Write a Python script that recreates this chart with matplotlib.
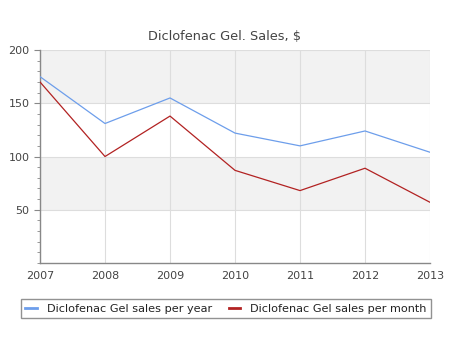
import matplotlib
matplotlib.use('Agg')
import matplotlib.pyplot as plt

years = [2007, 2008, 2009, 2010, 2011, 2012, 2013]
per_year = [175, 131, 155, 122, 110, 124, 104]
per_month = [170, 100, 138, 87, 68, 89, 57]

fig = plt.figure(figsize=(4.5, 3.5), dpi=100)
ax = fig.add_axes([0.0889, 0.2486, 0.8667, 0.6084])

# alternating bands
for lo, hi in [(50, 100), (150, 200)]:
    ax.axhspan(lo, hi, color='#f2f2f2', zorder=0, lw=0)

ax.plot(years, per_year, color='#6d9eeb', lw=0.9, label='Diclofenac Gel sales per year', zorder=3)
ax.plot(years, per_month, color='#b22222', lw=0.9, label='Diclofenac Gel sales per month', zorder=3)

ax.set_xlim(2007, 2013)
ax.set_ylim(0, 200)
ax.set_xticks(years)
ax.set_yticks([50, 100, 150, 200])
ax.set_yticks(range(0, 201, 10), minor=True)
ax.grid(True, which='major', color='#dddddd', lw=0.8, zorder=1)
ax.set_axisbelow(True)

for s in ['top', 'right']:
    ax.spines[s].set_visible(False)
for s in ['left', 'bottom']:
    ax.spines[s].set_color('#888888')
    ax.spines[s].set_linewidth(1)

ax.tick_params(axis='both', which='major', colors='#888888', labelcolor='#444444', labelsize=8, length=4)
ax.tick_params(axis='y', which='minor', colors='#888888', length=2)
ax.tick_params(axis='x', which='major', length=0, pad=6)

fig.text(0.5, 0.895, 'Diclofenac Gel. Sales, $', ha='center', va='center', fontsize=9.3, color='#444444')

leg = fig.legend(loc='center', bbox_to_anchor=(0.502, 0.118), ncol=2, fontsize=8.1,
                 frameon=True, fancybox=False, edgecolor='#777777', handlelength=1.0, handletextpad=0.9,
                 columnspacing=1.5, borderpad=0.4)
leg.get_frame().set_linewidth(1)
for text in leg.get_texts():
    text.set_color('#222222')
for line in leg.get_lines():
    line.set_linewidth(2)

fig.savefig('out.png', dpi=100)
